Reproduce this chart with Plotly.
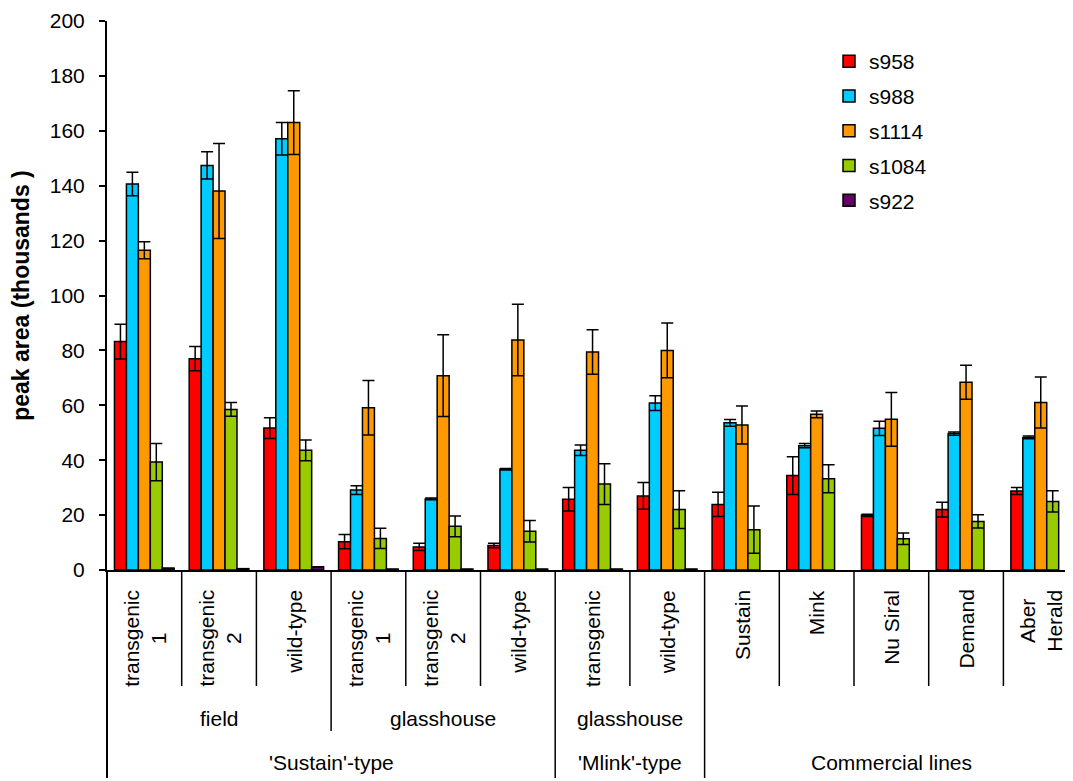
import plotly.graph_objects as go

# ---- data ----
categories = ["transgenic<br>1", "transgenic<br>2", "wild-type",
              "transgenic<br>1", "transgenic<br>2", "wild-type",
              "transgenic", "wild-type",
              "Sustain", "Mink", "Nu Siral", "Demand", "Aber<br>Herald"]

series_names = ["s958", "s988", "s1114", "s1084", "s922"]
series_colors = ["#FF0000", "#00CCFF", "#FF9900", "#99CC00", "#660066"]

s958 = [83.2, 77.0, 51.7, 10.3, 8.4, 8.9, 25.8, 27.0, 23.9, 34.4, 19.9, 22.0, 28.8]
s958_err = [6.3, 4.4, 3.8, 2.6, 1.3, 0.8, 4.3, 4.9, 4.4, 6.9, 0.4, 2.7, 1.3]

s988 = [140.6, 147.4, 157.1, 29.1, 25.9, 36.7, 43.6, 60.8, 53.6, 45.3, 51.6, 49.7, 48.3]
s988_err = [4.3, 5.0, 5.9, 1.6, 0.3, 0.3, 1.9, 2.7, 1.2, 0.8, 2.6, 0.6, 0.5]

s1114 = [116.5, 138.1, 163.0, 59.1, 70.8, 83.8, 79.4, 80.0, 52.8, 56.7, 54.9, 68.4, 61.0]
s1114_err = [3.1, 17.3, 11.6, 9.9, 14.9, 13.0, 8.1, 10.0, 6.9, 1.2, 9.8, 6.2, 9.3]

s1084 = [39.3, 58.5, 43.6, 11.5, 15.9, 14.1, 31.3, 22.0, 14.7, 33.2, 11.4, 17.7, 25.0]
s1084_err = [6.8, 2.5, 3.8, 3.7, 3.8, 3.9, 7.4, 6.9, 8.6, 5.1, 2.1, 2.4, 3.9]

s922 = [0.6, 0.5, 1.2, 0.3, 0.3, 0.3, 0.3, 0.3, None, None, None, None, None]
s922_err = [0, 0, 0, 0, 0, 0, 0, 0, 0, 0, 0, 0, 0]

# level-2 and level-3 group labels: (label, first index, last index)
level2 = [("field", 0, 2), ("glasshouse", 3, 5), ("glasshouse", 6, 7)]
level3 = [("'Sustain'-type", 0, 5), ("'Mlink'-type", 6, 7), ("Commercial lines", 8, 12)]

y_ticks = list(range(0, 201, 20))

# ---- layout constants (page has an 8px body margin) ----
OFF = 8
W, H = 1073 - OFF, 781 - OFF
PLOT_LEFT, PLOT_TOP, PLOT_BOTTOM = 107, 21, 570   # page pixel coords
PH = PLOT_BOTTOM - PLOT_TOP
PW = 1073 - PLOT_LEFT
FONT = "Arial, Liberation Sans, sans-serif"


def py(pix):
    """page pixel row -> paper y coordinate"""
    return (PLOT_BOTTOM - pix) / PH


def px(pix):
    """page pixel column -> paper x coordinate"""
    return (pix - PLOT_LEFT) / PW


x = list(range(len(categories)))
values = [s958, s988, s1114, s1084, s922]
errors = [s958_err, s988_err, s1114_err, s1084_err, s922_err]

fig = go.Figure()
for name, col, v, e in zip(series_names, series_colors, values, errors):
    fig.add_trace(go.Bar(
        x=x, y=v, name=name, legendgroup=name,
        marker=dict(color=col, line=dict(color="black", width=1.5)),
        error_y=dict(type="data", array=e, symmetric=True, visible=True,
                     color="black", thickness=1.5, width=6),
    ))

annotations = []
shapes = []

# category labels (rotated)
for i, c in enumerate(categories):
    annotations.append(dict(
        x=i, y=py(588), xref="x", yref="paper", text=c, showarrow=False,
        textangle=-90, xanchor="center", yanchor="top",
        font=dict(family=FONT, size=21, color="black")))

for lab, a, b in level2:
    annotations.append(dict(
        x=(a + b) / 2, y=py(718), xref="x", yref="paper", text=lab, showarrow=False,
        xanchor="center", yanchor="middle",
        font=dict(family=FONT, size=21, color="black")))

for lab, a, b in level3:
    annotations.append(dict(
        x=(a + b) / 2, y=py(763), xref="x", yref="paper", text=lab, showarrow=False,
        xanchor="center", yanchor="middle",
        font=dict(family=FONT, size=21, color="black")))

# separator lines
lvl3_bounds = {b[2] + 0.5 for b in level3[:-1]}
lvl2_bounds = {b[2] + 0.5 for b in level2[:-1]} - lvl3_bounds
for i in range(len(categories) - 1):
    bx = i + 0.5
    if bx in lvl3_bounds:
        yb = py(778)
    elif bx in lvl2_bounds:
        yb = py(731)
    else:
        yb = py(686)
    shapes.append(dict(type="line", xref="x", yref="paper", x0=bx, x1=bx,
                       y0=0, y1=yb, line=dict(color="black", width=1.5)))
shapes.append(dict(type="line", xref="paper", yref="paper", x0=0, x1=0,
                   y0=0, y1=py(778), line=dict(color="black", width=2)))

group_w = 74.7
x_max = -0.5 + PW / group_w

fig.update_layout(
    width=W, height=H,
    margin=dict(l=PLOT_LEFT - OFF, r=0, t=PLOT_TOP - OFF,
                b=H - (PLOT_BOTTOM - OFF), pad=0),
    paper_bgcolor="white", plot_bgcolor="white",
    barmode="group", bargap=0.2, bargroupgap=0,
    font=dict(family=FONT, size=21, color="black"),
    xaxis=dict(range=[-0.5, x_max], showticklabels=False, ticks="",
               showgrid=False, zeroline=False, showline=True,
               linecolor="black", linewidth=2),
    yaxis=dict(range=[0, 200], tickvals=y_ticks, ticks="outside", ticklen=6,
               tickwidth=1.5, tickcolor="black", showgrid=False, zeroline=False,
               showline=True, linecolor="black", linewidth=2,
               ticklabelstandoff=10,
               tickfont=dict(family=FONT, size=21, color="black"),
               title=dict(text="<b>peak area (thousands )</b>", standoff=14,
                          font=dict(family=FONT, size=23, color="black"))),
    legend=dict(x=px(829), y=py(41), xanchor="left", yanchor="top",
                bgcolor="rgba(0,0,0,0)", traceorder="grouped",
                tracegroupgap=4.5, itemclick=False,
                font=dict(family=FONT, size=21, color="black")),
    annotations=annotations, shapes=shapes,
)

fig.write_html("out.html")
